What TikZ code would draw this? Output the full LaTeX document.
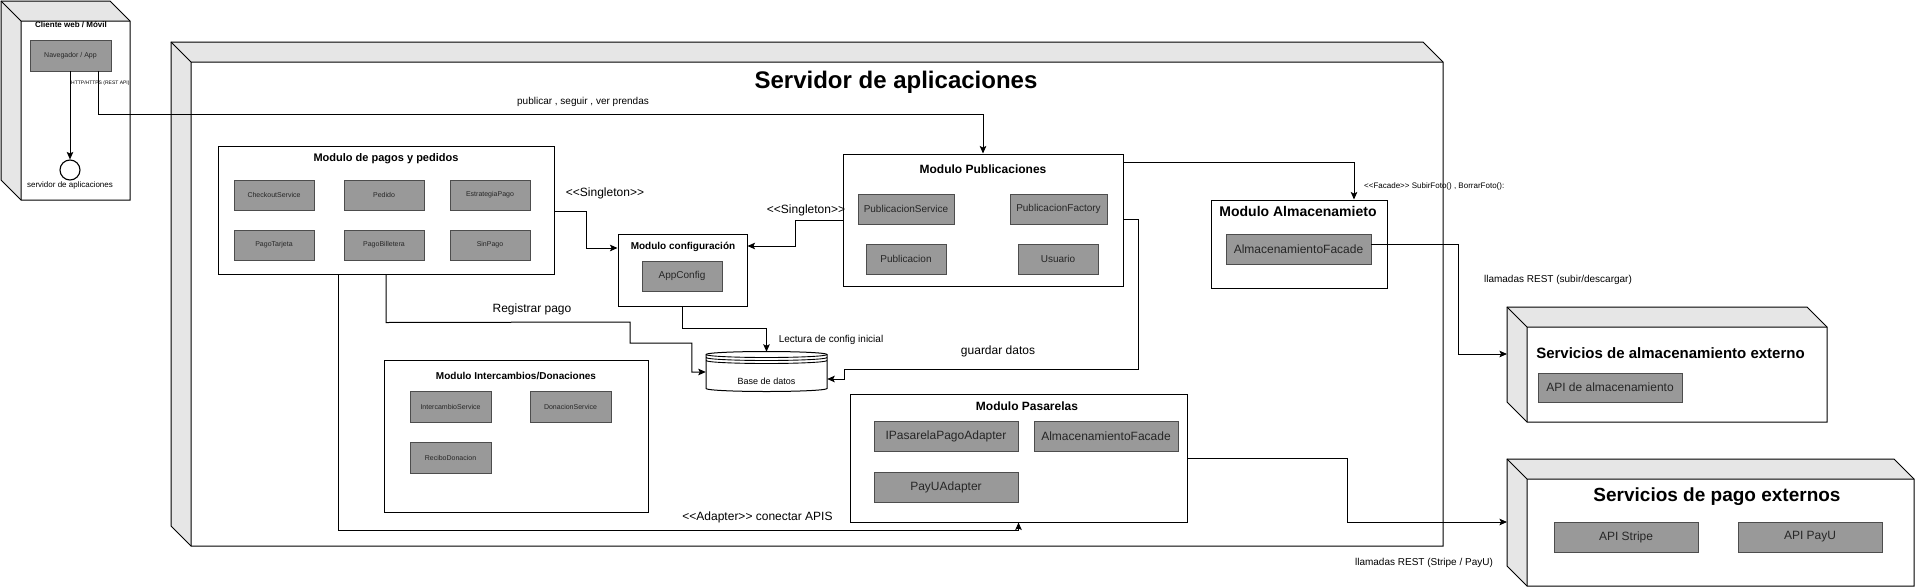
\documentclass[tikz,border=0pt]{standalone}
\usepackage{fontspec}
\setmainfont{Liberation Sans}
\usetikzlibrary{arrows.meta,calc}
\newcommand\fsz[1]{\fontsize{#1}{#1}\selectfont}
\newcommand\llt{<\kern0pt<}
\newcommand\ggt{>\kern0pt>}
\definecolor{itemgray}{HTML}{999999}
\definecolor{itemedge}{HTML}{4D4D4D}
\definecolor{sidegray}{HTML}{E6E6E6}
\tikzset{
 boxline/.style={draw=black, line width=1pt, line join=miter},
 sideface/.style={fill=sidegray},
 module/.style={draw=black, fill=white, line width=1pt, inner sep=0pt},
 item/.style={draw=itemedge, fill=itemgray, line width=0.9pt, inner sep=0pt, text=black!85},
 ttl/.style={inner sep=0pt},
 lbl/.style={inner sep=0pt},
 conn/.style={draw=black, line width=1pt},
 arr/.style={conn, -{Stealth[length=7.5pt,width=6.5pt,inset=1.5pt]}},
}
\newcommand\cubebox[5]{%
 \fill[sideface] ({#1-#5},{#2-#5}) -- ({#3-#5},{#2-#5}) -- (#3,#2) -- (#1,#2) -- cycle;
 \fill[sideface] ({#1-#5},{#2-#5}) -- (#1,#2) -- (#1,#4) -- ({#1-#5},{#4-#5}) -- cycle;
 \fill[white] (#1,#2) rectangle (#3,#4);
 \draw[boxline] ({#1-#5},{#2-#5}) -- ({#3-#5},{#2-#5}) -- (#3,#2) -- (#3,#4) -- (#1,#4) -- ({#1-#5},{#4-#5}) -- cycle;
 \draw[boxline] ({#1-#5},{#2-#5}) -- (#1,#2) -- (#3,#2) (#1,#2) -- (#1,#4);
}
\begin{document}
\begin{tikzpicture}[x=1pt,y=-1pt]
\useasboundingbox (0,0) rectangle (1915,587);

% ---------- client ----------
\cubebox{21}{21}{130}{200}{20}
\node[inner sep=0pt, minimum width=109pt, minimum height=179pt] (client) at (75.5,110.5) {};
\node[ttl, font=\bfseries\fsz{8}] (clientT) at (71,25) {Cliente web / Móvil};
\node[item, minimum width=81pt, minimum height=31pt, font=\fsz{7}] (nav) at (70.5,55.5) {Navegador / App};
\node[circle, draw, line width=1.1pt, minimum size=20pt, inner sep=0pt] (circ) at (70,170) {};
\node[lbl, font=\fsz{8}] (circT) at (70,185) {servidor de aplicaciones};
\node[lbl, anchor=west, font=\fsz{5}] (httpT) at (71,83) {HTTP/HTTPS (REST API)};

% ---------- server ----------
\cubebox{191}{62}{1443}{546}{20}
\node[inner sep=0pt, minimum width=1252pt, minimum height=484pt] (server) at (817,304) {};
\node[ttl, font=\bfseries\fsz{24}] (serverT) at (896,82) {Servidor de aplicaciones};

% ---------- external ----------
\cubebox{1527}{327}{1827}{422}{20}
\node[inner sep=0pt, minimum width=300pt, minimum height=95pt] (stor) at (1677,374.5) {};
\node[ttl, font=\bfseries\fsz{15}] (storT) at (1670.5,353) {Servicios de almacenamiento externo};
\node[item, minimum width=144pt, minimum height=29pt, font=\fsz{12}] (apialm) at (1610,387.5) {API de almacenamiento};
\coordinate (storin) at (1507,354);

\cubebox{1527}{479}{1914}{586}{20}
\node[inner sep=0pt, minimum width=387pt, minimum height=107pt] (pay) at (1720.5,532.5) {};
\node[ttl, font=\bfseries\fsz{19}] (payT) at (1717,497) {Servicios de pago externos};
\node[item, minimum width=144pt, minimum height=30pt, font=\fsz{12}] (stripe) at (1626,537) {API Stripe};
\node[item, minimum width=144pt, minimum height=30pt, font=\fsz{12}] (payu) at (1810,537) {API PayU};
\coordinate (payin) at (1507,522);

% ---------- modulo pagos ----------
\node[module, minimum width=336pt, minimum height=128pt] (pagos) at (386,210) {};
\node[ttl, font=\bfseries\fsz{11}] (pagosT) at (386,159) {Modulo de pagos y pedidos};
\tikzset{pitem/.style={item, minimum width=80pt, minimum height=30pt, font=\fsz{7}}}
\node[pitem] (checkout) at (274,195) {CheckoutService};
\node[pitem] (pedido) at (384,195) {Pedido};
\node[pitem] (estrat) at (490,195) {EstrategiaPago};
\node[pitem] (tarjeta) at (274,245) {PagoTarjeta};
\node[pitem] (billetera) at (384,245) {PagoBilletera};
\node[pitem] (sinpago) at (490,245) {SinPago};

% ---------- modulo configuracion ----------
\node[module, minimum width=129pt, minimum height=72pt] (config) at (682.5,270) {};
\node[ttl, font=\bfseries\fsz{10}] (configT) at (683,247) {Modulo configuración};
\node[item, minimum width=80pt, minimum height=30pt, font=\fsz{10}] (appcfg) at (682,276) {AppConfig};

% ---------- modulo publicaciones ----------
\node[module, minimum width=280pt, minimum height=132pt] (pub) at (983,220) {};
\node[ttl, font=\bfseries\fsz{12}] (pubT) at (983,169) {Modulo Publicaciones};
\node[item, minimum width=96pt, minimum height=30pt, font=\fsz{10}] (pubserv) at (906,209) {PublicacionService};
\node[item, minimum width=97pt, minimum height=30pt, font=\fsz{10}] (pubfact) at (1058.5,209) {PublicacionFactory};
\node[item, minimum width=80pt, minimum height=30pt, font=\fsz{10}] (publi) at (906,259) {Publicacion};
\node[item, minimum width=80pt, minimum height=30pt, font=\fsz{10}] (usuario) at (1058,259) {Usuario};

% ---------- modulo almacenamiento ----------
\node[module, minimum width=176pt, minimum height=88pt] (alm) at (1299,244) {};
\node[ttl, font=\bfseries\fsz{14}] (almT) at (1298,211) {Modulo Almacenamieto};
\node[item, minimum width=145pt, minimum height=30pt, font=\fsz{12}] (almfac) at (1298.5,249) {AlmacenamientoFacade};

% ---------- modulo intercambios ----------
\node[module, minimum width=264pt, minimum height=152pt] (inter) at (516,436) {};
\node[ttl, font=\bfseries\fsz{10}] (interT) at (516,376) {Modulo Intercambios/Donaciones};
\tikzset{iitem/.style={item, minimum width=81pt, minimum height=31pt, font=\fsz{7}}}
\node[iitem] (interserv) at (450.5,406.5) {IntercambioService};
\node[iitem] (donserv) at (570.5,406.5) {DonacionService};
\node[iitem] (recibo) at (450.5,457.5) {ReciboDonacion};

% ---------- modulo pasarelas ----------
\node[module, minimum width=337pt, minimum height=128pt] (pas) at (1018.5,458) {};
\node[ttl, font=\bfseries\fsz{12}] (pasT) at (1027,406) {Modulo Pasarelas};
\node[item, minimum width=144pt, minimum height=30pt, font=\fsz{12}] (ipas) at (946,436) {IPasarelaPagoAdapter};
\node[item, minimum width=144pt, minimum height=30pt, font=\fsz{12}] (almfac2) at (1106,436) {AlmacenamientoFacade};
\node[item, minimum width=144pt, minimum height=30pt, font=\fsz{12}] (payuad) at (946,487) {PayUAdapter};

% ---------- base de datos ----------
\node[inner sep=0pt, minimum width=121pt, minimum height=40pt] (db) at (766.5,372) {};
\path[fill=white, draw=black, line width=1pt]
  (706,354.5) -- (706,388.5) arc[start angle=180, end angle=0, x radius=60.5, y radius=3]
  -- (827,354.5) arc[start angle=0, end angle=-180, x radius=60.5, y radius=3] -- cycle;
\draw[line width=0.9pt] (706,354.5) arc[start angle=180, end angle=0, x radius=60.5, y radius=3];
\draw[line width=0.9pt] (706,357.5) arc[start angle=180, end angle=0, x radius=60.5, y radius=3];
\draw[line width=0.9pt] (706,360.5) arc[start angle=180, end angle=0, x radius=60.5, y radius=3];
\node[lbl, font=\fsz{9}] (dbT) at (766.5,381) {Base de datos};

% ---------- connectors ----------
\draw[arr] (nav.south -| circ.north) -- (circ.north);
\draw[arr] ($(nav.south)+(27.5,0)$) -- ++(0,43) -| (pub.north);
\node[lbl, font=\fsz{10}] (pubL) at (583,102) {publicar , seguir , ver prendas};

\draw[arr] ($(pagos.east)+(0,1)$) -- ++(32,0) |- ($(config.west)+(0,-22)$);
\node[lbl, font=\fsz{12}] (singL1) at (605,193) {\llt Singleton\ggt};

\draw[arr] (pub.west) -- ++(-47,0) |- ($(config.east)+(0,-24)$);
\node[lbl, font=\fsz{12}] (singL2) at (806,210) {\llt Singleton\ggt};

\draw[arr] (config.south) -- ++(0,22) -| (db.north);
\node[lbl, font=\fsz{10}] (lectL) at (831,340) {Lectura de config inicial};

\draw[arr] (pagos.south) -- ++(0,48) -- (630,322) -- (630,343) -- ($(db.west)+(-14,-29)$) -- ($(db.west)+(-14,0)$) -- (db.west);
\node[lbl, font=\fsz{12}] (regL) at (532,309) {Registrar pago};

\draw[arr] ($(pub.east)+(0,-1)$) -- ++(15,0) -- ++(0,150) -| ($(db.east)+(17,7)$) -- ($(db.east)+(0,7)$);
\node[lbl, font=\fsz{12}] (guarL) at (998,351) {guardar datos};

\draw[arr] ($(pub.north east)+(0,9)$) -| ($(alm.north)+(55,0)$);
\node[lbl, anchor=west, font=\fsz{8}] (facL) at (1364,186) {\llt Facade\ggt{} SubirFoto() , BorrarFoto():};

\draw[arr] ($(almfac.east)+(0,-5)$) -- ++(87,0) |- (storin);
\node[lbl, font=\fsz{10}] (llamL1) at (1558,280) {llamadas REST (subir/descargar)};

\draw[arr] (pas.east) -- ++(160,0) |- (payin);
\node[lbl, font=\fsz{10}] (llamL2) at (1424,563) {llamadas REST (Stripe / PayU)};

\draw[arr] ($(pagos.south)+(-48,0)$) |- ($(pas.south)+(0,8)$) -- (pas.south);
\node[lbl, font=\fsz{12}] (adL) at (757.5,517) {\llt Adapter\ggt{} conectar APIS};

\end{tikzpicture}
\end{document}
